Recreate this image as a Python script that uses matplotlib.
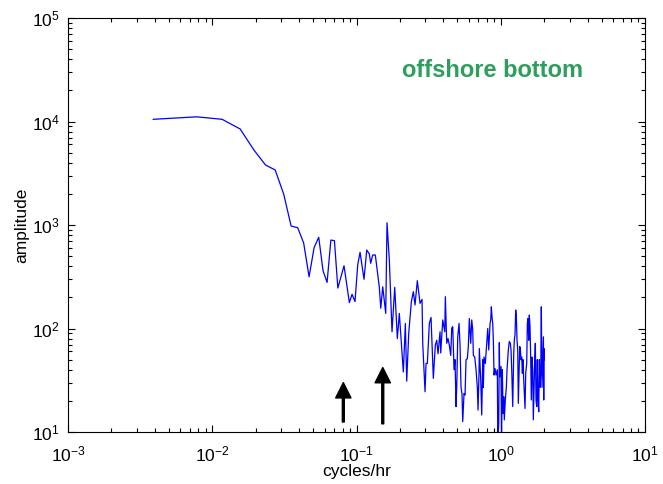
import matplotlib
matplotlib.use("Agg")
import matplotlib.pyplot as plt

plt.rcParams["font.family"] = ["Liberation Sans", "DejaVu Sans"]
plt.rcParams["axes.unicode_minus"] = False
plt.rcParams["mathtext.fontset"] = "custom"
plt.rcParams["mathtext.rm"] = "Liberation Sans"
plt.rcParams["mathtext.it"] = "Liberation Sans:italic"
plt.rcParams["mathtext.bf"] = "Liberation Sans:bold"

# amplitude spectrum, offshore bottom record (cycles/hr)
freq = [
    0.0039, 0.0078, 0.0117, 0.0156, 0.0195, 0.0234, 0.0273, 0.0313, 0.0352, 0.0391,
    0.0430, 0.0469, 0.0508, 0.0547, 0.0586, 0.0625, 0.0664, 0.0703, 0.0742, 0.0819,
    0.0892, 0.0931, 0.0976, 0.1019, 0.1058, 0.1127, 0.1177, 0.1227, 0.1254, 0.1295,
    0.1350, 0.1439, 0.1472, 0.1519, 0.1594, 0.1627, 0.1688, 0.1762, 0.1840, 0.1918,
    0.1980, 0.2111, 0.2180, 0.2228, 0.2301, 0.2398, 0.2476, 0.2544, 0.2639, 0.2756,
    0.2845, 0.2877, 0.2985, 0.3033, 0.3097, 0.3197, 0.3285, 0.3407, 0.3518, 0.3597,
    0.3673, 0.3793, 0.3835, 0.3960, 0.4089, 0.4128, 0.4220, 0.4309, 0.4399, 0.4498,
    0.4571, 0.4644, 0.4742, 0.4818, 0.4896, 0.4951, 0.5030, 0.5136, 0.5218, 0.5302,
    0.5388, 0.5448, 0.5562, 0.5652, 0.5743, 0.5863, 0.5957, 0.6053, 0.6190, 0.6290,
    0.6391, 0.6453, 0.6599, 0.6737, 0.6878, 0.6956, 0.7068, 0.7102, 0.7261, 0.7378,
    0.7498, 0.7570, 0.7656, 0.7816, 0.7992, 0.8121, 0.8252, 0.8425, 0.8518, 0.8602,
    0.8696, 0.8794, 0.8881, 0.8979, 0.9123, 0.9270, 0.9464, 0.9539, 0.9678, 0.9770,
    0.9833, 1.004, 1.012, 1.025, 1.037, 1.048, 1.058, 1.075, 1.093, 1.105,
    1.117, 1.128, 1.146, 1.165, 1.178, 1.191, 1.210, 1.230, 1.241, 1.255,
    1.269, 1.282, 1.296, 1.311, 1.323, 1.338, 1.353, 1.366, 1.381, 1.397,
    1.411, 1.426, 1.442, 1.456, 1.473, 1.489, 1.513, 1.528, 1.545, 1.562,
    1.577, 1.595, 1.613, 1.628, 1.647, 1.665, 1.681, 1.700, 1.719, 1.736,
    1.755, 1.775, 1.792, 1.812, 1.833, 1.850, 1.871, 1.892, 1.910, 1.932,
    1.950, 1.962, 1.975, 1.985, 1.993, 2.000,
]
amp = [
    10500, 11100, 10500, 8470, 5270, 3800, 3400, 1980, 977, 942,
    670, 316, 604, 761, 361, 279, 716, 705, 246, 404,
    178, 214, 182, 411, 545, 299, 573, 525, 427, 513,
    513, 250, 157, 253, 140, 1052, 459, 93, 250, 80,
    140, 38, 112, 31, 90, 180, 227, 169, 290, 175,
    191, 72, 24.5, 46, 46, 112, 128, 33, 69, 77,
    57, 93, 58, 121, 93, 203, 72, 80, 69, 55,
    101, 104, 40, 50, 17.6, 27, 83, 112, 69, 27,
    23, 12.6, 23.6, 22.8, 50, 51, 67, 125, 72, 121,
    97, 55, 53, 40, 27, 16.3, 38, 64, 32, 14.6,
    50, 27, 53, 46, 72, 100, 62, 112, 121, 162,
    130, 112, 77, 35.5, 41, 35.5, 40, 8, 12.1, 73,
    34, 43, 7.5, 40, 15.2, 22, 13.1, 20.4, 27, 40,
    50, 62, 75, 72, 62, 40, 17.6, 58, 77, 87,
    151, 130, 77, 62, 18.9, 37, 67, 64, 50, 53,
    37, 50, 32, 23.6, 16.9, 37, 46, 112, 125, 77,
    135, 104, 50, 20.4, 53, 40, 13.1, 27, 50, 72,
    20.4, 17.6, 50, 20.4, 15.7, 50, 27, 37, 162, 27,
    43, 62, 83, 20.4, 64, 50,
]

# tidal peaks marked with arrows
arrow_freq = [0.081, 0.152]
arrow_base = [12.5, 12.0]
arrow_tip = [30.0, 42.0]

fig = plt.figure(figsize=(6.63, 4.84), dpi=100)
ax = fig.add_axes([0.1026, 0.1074, 0.8703, 0.8554])

ax.loglog(freq, amp, color="#0000ff", linewidth=0.9)

for f, lo, hi in zip(arrow_freq, arrow_base, arrow_tip):
    ax.annotate("", xy=(f, hi), xytext=(f, lo),
                arrowprops=dict(facecolor="black", edgecolor="black",
                                width=1.4, headwidth=11, headlength=11, shrink=0))

ax.set_xlim(1e-3, 1e1)
ax.set_ylim(1e1, 1e5)

ax.set_xlabel("cycles/hr", fontsize=12.5)
ax.set_ylabel("amplitude", fontsize=12.5)
ax.xaxis.set_label_coords(0.5, -0.078)
ax.yaxis.set_label_coords(-0.067, 0.5)

ax.text(0.735, 0.874, "offshore bottom", transform=ax.transAxes,
        ha="center", va="center", fontsize=17, fontweight="bold", color="#2e9e5e")

ax.tick_params(which="both", direction="in", top=True, right=True,
               labelsize=12.5, width=0.8)
ax.tick_params(which="major", length=5)
ax.tick_params(axis="x", which="major", pad=9)
ax.tick_params(axis="y", which="major", pad=6)
ax.tick_params(which="minor", length=3)
for side in ax.spines.values():
    side.set_linewidth(0.8)

fig.savefig("out.png", dpi=100)
